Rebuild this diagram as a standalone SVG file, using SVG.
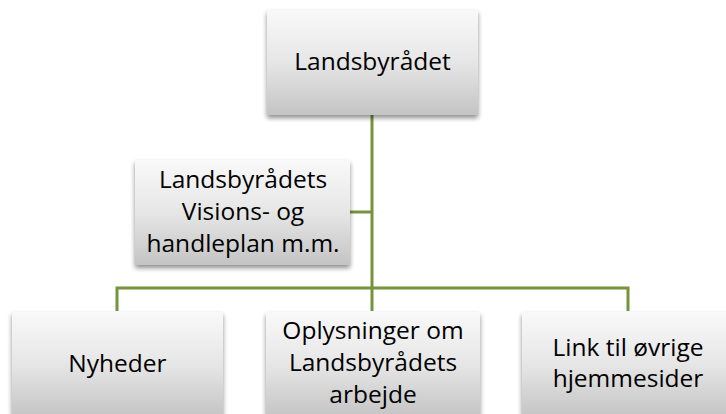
<svg xmlns="http://www.w3.org/2000/svg" width="726" height="414" viewBox="0 0 726 414">
<defs>
<linearGradient id="g" x1="0" y1="0" x2="0" y2="1">
<stop offset="0" stop-color="#f9f9f9"/>
<stop offset="0.5" stop-color="#e6e6e6"/>
<stop offset="1" stop-color="#c4c4c4"/>
</linearGradient>
<filter id="sh" x="-10%" y="-10%" width="125%" height="130%">
<feGaussianBlur in="SourceAlpha" stdDeviation="2.5"/>
<feOffset dx="0" dy="3" result="b"/>
<feComponentTransfer><feFuncA type="linear" slope="0.45"/></feComponentTransfer>
<feMerge><feMergeNode/><feMergeNode in="SourceGraphic"/></feMerge>
</filter>
</defs>
<style>
.box{fill:url(#g);filter:url(#sh)}
.t{font-family:"Open Sans","Liberation Sans",sans-serif;font-size:24.5px;fill:#000;text-anchor:middle}
.c{stroke:#77933c;stroke-width:3;fill:none}
</style>
<rect width="726" height="414" fill="#fff"/>
<g id="connectors">
<path class="c" d="M372 114V288"/>
<path class="c" d="M350 212H372"/>
<path class="c" d="M117 311V288H628V311"/>
<path class="c" d="M372 288V311"/>
</g>
<g id="landsbyraadet">
<rect class="box" x="267" y="10" width="211" height="105"/>
<text class="t" x="372.5" y="70">Landsbyrådet</text>
</g>
<g id="visionsplan">
<rect class="box" x="135" y="160" width="215" height="105"/>
<text class="t" x="243" y="188">Landsbyrådets</text>
<text class="t" x="243" y="220">Visions- og</text>
<text class="t" x="243" y="252">handleplan m.m.</text>
</g>
<g id="nyheder">
<rect class="box" x="12" y="312" width="211" height="105"/>
<text class="t" x="117.5" y="372">Nyheder</text>
</g>
<g id="oplysninger">
<rect class="box" x="266" y="312" width="214" height="105"/>
<text class="t" x="373" y="339">Oplysninger om</text>
<text class="t" x="373" y="371">Landsbyrådets</text>
<text class="t" x="373" y="403">arbejde</text>
</g>
<g id="link">
<rect class="box" x="522" y="312" width="212" height="105"/>
<text class="t" x="628" y="356">Link til øvrige</text>
<text class="t" x="628" y="387">hjemmesider</text>
</g>
</svg>
